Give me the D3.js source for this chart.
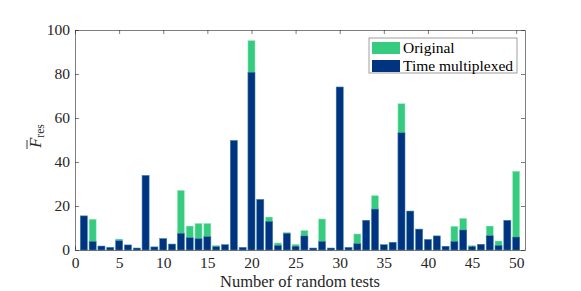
<!DOCTYPE html>
<html><head><meta charset="utf-8">
<script src="https://cdn.jsdelivr.net/npm/d3@7"></script>
<style>body{margin:0;background:#fff}</style>
</head><body><svg id="c" width="581" height="291"></svg>
<script>
const tests = d3.range(1, 51);
const original = [15.5,14,1.8,1.2,5.0,2.3,0.9,33.9,1.4,5.2,2.7,27.1,10.9,12.1,12.1,2.1,2.4,49.8,1.2,95.2,23.0,15.0,3.2,8.0,2.6,8.9,0.9,14.1,0.9,74.1,1.2,7.3,13.5,24.7,2.4,3.5,66.5,17.7,9.5,4.8,6.4,1.7,10.8,14.4,2.1,2.6,10.9,4.1,13.5,35.8];
const timeMultiplexed = [15.5,3.9,1.8,1.2,4.2,2.3,0.9,33.9,1.4,5.2,2.7,7.6,5.6,5.2,6.1,1.5,2.4,49.8,1.2,80.8,23.0,13.0,2.1,7.6,1.7,6.4,0.9,3.9,0.9,74.1,1.2,2.9,13.5,18.6,2.4,3.5,53.3,17.7,9.5,4.8,6.4,1.7,3.9,9.1,1.5,2.6,6.5,2.1,13.5,5.9];
const xTicks = [0,5,10,15,20,25,30,35,40,45,50];
const yTicks = [0,20,40,60,80,100];
const seriesNames = ["Original","Time multiplexed"];

const svg = d3.select("#c");
const L=75, R=525, T=30, B=250;
const x = d3.scaleLinear().domain([0,51]).range([L,R]);
const y = d3.scaleLinear().domain([0,100]).range([B,T]);
const green = "#36cc80", blue = "#003380";
const bw = (x(1)-x(0))*0.8;
const font = "'Liberation Serif','DejaVu Serif',serif";
const axisCol = "#262626";

svg.append("g").selectAll("rect").data(tests).join("rect")
  .attr("x", d=>x(d)-bw/2).attr("width", bw)
  .attr("y", (d,i)=>y(original[i])).attr("height",(d,i)=>y(0)-y(original[i]))
  .attr("fill", green).attr("stroke","#a8e8c8").attr("stroke-width",0.5);
svg.append("g").selectAll("rect").data(tests).join("rect")
  .attr("x", d=>x(d)-bw/2).attr("width", bw)
  .attr("y", (d,i)=>y(timeMultiplexed[i])).attr("height",(d,i)=>y(0)-y(timeMultiplexed[i]))
  .attr("fill", blue).attr("stroke","#5a8ab8").attr("stroke-width",0.5);

function styleAxis(g){
  g.selectAll("path,line").attr("stroke", axisCol).attr("stroke-width",0.6);
  g.selectAll("text").attr("fill", axisCol).attr("font-family", font).attr("font-size", 15.5);
}
svg.append("g").attr("transform",`translate(0,${B})`)
  .call(d3.axisBottom(x).tickValues(xTicks).tickSizeInner(-4).tickSizeOuter(0).tickPadding(7))
  .call(styleAxis);
svg.append("g").attr("transform",`translate(0,${T})`)
  .call(d3.axisTop(x).tickValues(xTicks).tickSizeInner(-4).tickSizeOuter(0).tickFormat(""))
  .call(styleAxis);
svg.append("g").attr("transform",`translate(${L},0)`)
  .call(d3.axisLeft(y).tickValues(yTicks).tickSizeInner(-4).tickSizeOuter(0).tickPadding(5))
  .call(styleAxis);
svg.append("g").attr("transform",`translate(${R},0)`)
  .call(d3.axisRight(y).tickValues(yTicks).tickSizeInner(-4).tickSizeOuter(0).tickFormat(""))
  .call(styleAxis);

svg.append("text").attr("x",300).attr("y",287)
  .attr("text-anchor","middle").attr("font-family",font).attr("font-size",16.5).attr("fill",axisCol)
  .text("Number of random tests");

const yl = svg.append("g").attr("transform","translate(41,136) rotate(-90)");
const ylt = yl.append("text").attr("text-anchor","middle").attr("font-family",font)
  .attr("font-size",16.5).attr("fill",axisCol);
ylt.append("tspan").attr("font-style","italic").text("F");
ylt.append("tspan").attr("font-size",11.5).attr("dy",3).text("res");
yl.append("line").attr("x1",-13).attr("x2",-4).attr("y1",-14).attr("y2",-14)
  .attr("stroke",axisCol).attr("stroke-width",0.9);

const lg = svg.append("g");
lg.append("rect").attr("x",369).attr("y",38).attr("width",148).attr("height",35)
  .attr("fill","#fff").attr("stroke","#888").attr("stroke-width",0.8);
[green, blue].forEach((c,i)=>{
  lg.append("rect").attr("x",372).attr("y",42+i*18).attr("width",28).attr("height",12).attr("fill",c);
  lg.append("text").attr("x",403).attr("y",53+i*18).attr("font-family",font).attr("font-size",15.5)
    .attr("fill","#000").text(seriesNames[i]);
});
</script></body></html>
